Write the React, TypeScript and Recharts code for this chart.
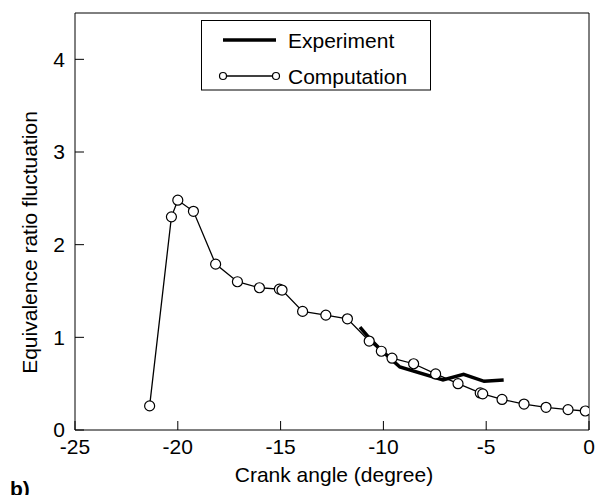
import React from "react";
import { LineChart, Line, XAxis, YAxis, ReferenceLine, Label } from "recharts";

const experimentName = "Experiment";
const computationName = "Computation";

const computationX = [-21.37, -20.31, -20.0, -19.24, -18.16, -17.1, -16.03, -15.06, -14.93, -13.93, -12.8, -11.75, -10.69, -10.1, -9.58, -8.53, -7.46, -6.37, -5.29, -5.17, -4.23, -3.16, -2.09, -1.02, -0.18];
const computationY = [0.26, 2.3, 2.48, 2.36, 1.79, 1.6, 1.535, 1.52, 1.51, 1.28, 1.24, 1.2, 0.96, 0.85, 0.775, 0.715, 0.605, 0.5, 0.4, 0.39, 0.33, 0.28, 0.245, 0.22, 0.205];

const experimentX = [-11.14, -10.6, -10.1, -9.65, -9.2, -7.1, -6.1, -5.1, -4.15];
const experimentY = [1.11, 0.97, 0.86, 0.77, 0.68, 0.54, 0.6, 0.525, 0.54];

const xTicks = [-25, -20, -15, -10, -5, 0];
const yTicks = [0, 1, 2, 3, 4];
const xDomain: [number, number] = [-25, 0];
const yDomain: [number, number] = [0, 4.5];

const xTitle = "Crank angle (degree)";
const yTitle = "Equivalence ratio fluctuation";
const panelLabel = "b)";

const computationData = computationX.map((x, i) => ({ x, y: computationY[i] }));
const experimentData = experimentX.map((x, i) => ({ x, y: experimentY[i] }));

const FONT = "'Liberation Sans', Arial, Helvetica, sans-serif";
const FS = 21;

const YTitle = (props: any) => {
  const vb = props.viewBox || { x: 15, y: 13, width: 60, height: 417 };
  const cx = vb.x + 14;
  const cy = vb.y + vb.height / 2 + 21;
  return (
    <text
      x={cx}
      y={cy}
      transform={`rotate(-90, ${cx}, ${cy})`}
      textAnchor="middle"
      dominantBaseline="central"
      fontFamily={FONT}
      fontSize={FS}
      fill="#000"
    >
      {yTitle}
    </text>
  );
};

export default function App() {
  return (
    <div style={{ position: "absolute", left: 0, top: 0, width: 598, height: 495, background: "#fff" }}>
      <LineChart
        width={598}
        height={495}
        margin={{ top: 13, right: 9, bottom: 35, left: 15 }}
        style={{ fontFamily: FONT }}
      >
        <XAxis
          dataKey="x"
          type="number"
          domain={xDomain}
          ticks={xTicks}
          interval={0}
          allowDataOverflow
          height={30}
          axisLine={{ stroke: "#000", strokeWidth: 1 }}
          tickLine={{ stroke: "#000", strokeWidth: 1 }}
          tickSize={-9}
          tickMargin={18}
          tick={{ fill: "#000", fontSize: FS, fontFamily: FONT }}
        >
          <Label value={xTitle} position="bottom" offset={7} dx={2} fill="#000" fontSize={FS} fontFamily={FONT} />
        </XAxis>
        <YAxis
          dataKey="y"
          type="number"
          domain={yDomain}
          ticks={yTicks}
          interval={0}
          allowDataOverflow
          width={60}
          axisLine={{ stroke: "#000", strokeWidth: 1 }}
          tickLine={{ stroke: "#000", strokeWidth: 1 }}
          tickSize={-9}
          tickMargin={19}
          tick={{ fill: "#000", fontSize: FS, fontFamily: FONT }}
        >
          <Label content={<YTitle />} />
        </YAxis>
        <ReferenceLine y={4.5} stroke="#000" strokeWidth={1} />
        <ReferenceLine x={0} stroke="#000" strokeWidth={1} />
        <Line
          data={experimentData}
          dataKey="y"
          name={experimentName}
          type="linear"
          stroke="#000"
          strokeWidth={3.5}
          dot={false}
          activeDot={false}
          isAnimationActive={false}
        />
        <Line
          data={computationData}
          dataKey="y"
          name={computationName}
          type="linear"
          stroke="#000"
          strokeWidth={1.3}
          dot={{ r: 5, fill: "#fff", stroke: "#000", strokeWidth: 1.2 }}
          activeDot={false}
          isAnimationActive={false}
        />
      </LineChart>
      <svg
        width={598}
        height={495}
        style={{ position: "absolute", left: 0, top: 0, pointerEvents: "none" }}
      >
        <rect x={201.5} y={20.5} width={229} height={69.5} fill="#fff" stroke="#000" strokeWidth={1} />
        <line x1={223} y1={40} x2={276} y2={40} stroke="#000" strokeWidth={3.5} />
        <text x={288} y={40} dominantBaseline="central" fontFamily={FONT} fontSize={FS} fill="#000">
          {experimentName}
        </text>
        <line x1={223} y1={76} x2={276} y2={76} stroke="#000" strokeWidth={1.3} />
        <circle cx={223} cy={76} r={3.5} fill="#fff" stroke="#000" strokeWidth={1.2} />
        <circle cx={276} cy={76} r={3.5} fill="#fff" stroke="#000" strokeWidth={1.2} />
        <text x={288} y={76} dominantBaseline="central" fontFamily={FONT} fontSize={FS} fill="#000">
          {computationName}
        </text>
        <text x={10} y={496} fontFamily={FONT} fontSize={FS} fontWeight="bold" fill="#000">
          {panelLabel}
        </text>
      </svg>
    </div>
  );
}
